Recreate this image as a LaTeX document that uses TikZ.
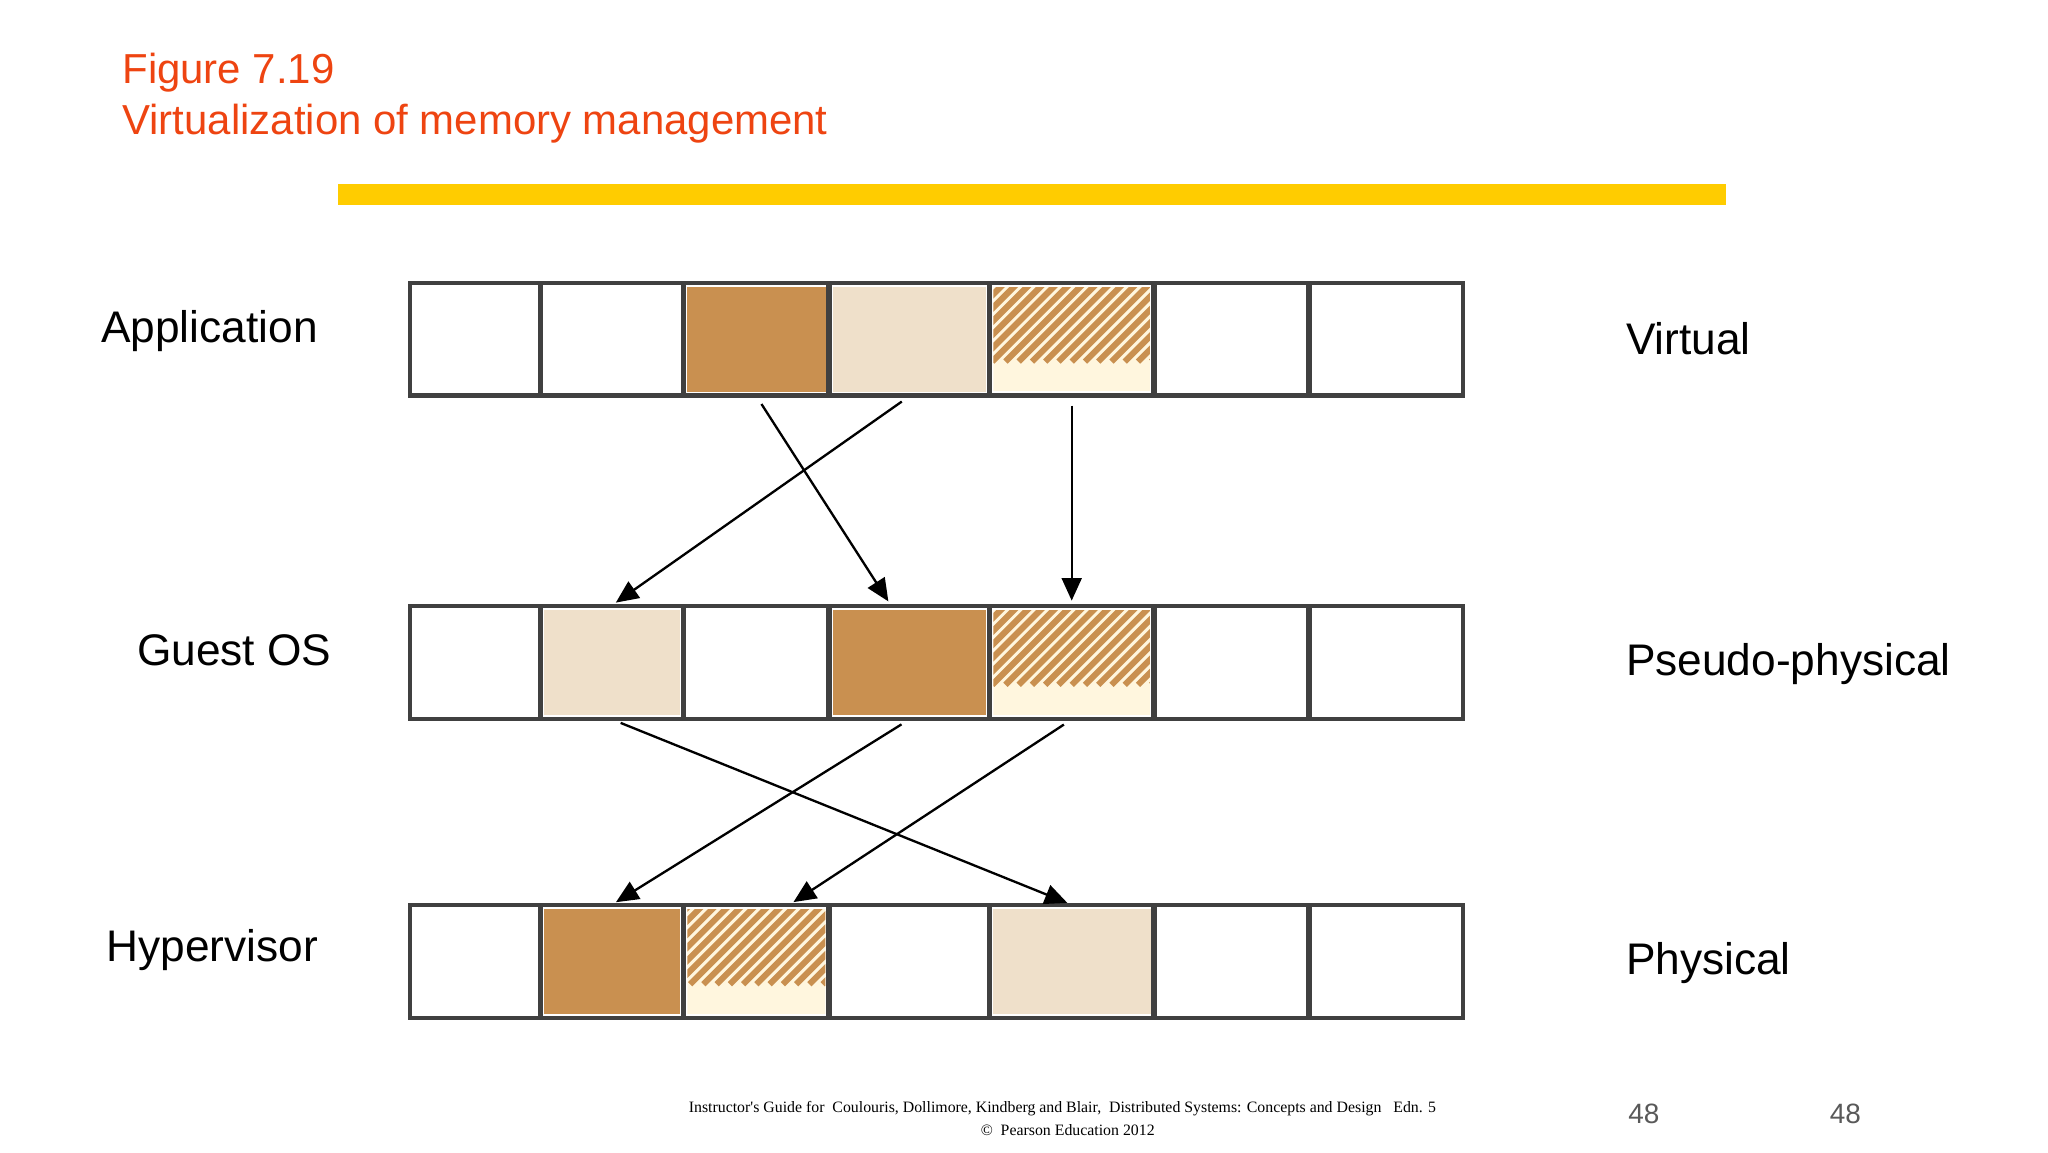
\documentclass[tikz,border=0pt]{standalone}
\usepackage{fontspec}
\setmainfont{Liberation Sans}
\newfontfamily\serifft{Liberation Serif}
\usetikzlibrary{arrows.meta}
\definecolor{dark}{HTML}{C99050}
\definecolor{lite}{HTML}{EFE0CA}
\definecolor{ttl}{HTML}{EE4411}
\definecolor{bar}{HTML}{FFCC00}
\definecolor{cream}{HTML}{FFF6DE}
\tikzset{
 cellbox/.style={draw=black!75, line width=0.6pt, inner sep=0pt, minimum height=0.84cm},
 lbl/.style={anchor=west, font=\fontsize{9.5}{11}\selectfont},
 conn/.style={-{Triangle[length=0.17cm,width=0.15cm]}, line width=0.5pt, shorten <=2pt, shorten >=1pt},
}
\begin{document}
\begin{tikzpicture}[x=0.01cm,y=-0.01cm]
\useasboundingbox (0,0) rectangle (1546,870);
\node[anchor=west, text=ttl, font=\fontsize{9}{11}\selectfont] at (80,55) {Figure 7.19};
\node[anchor=west, text=ttl, font=\fontsize{9}{11}\selectfont] at (80,93) {Virtualization of memory management};
\fill[bar] (255,139) rectangle (1303,155);
% rows
\foreach \r/\yy in {t/256, m/500, b/726}{
  \foreach \i/\xa/\xb in {0/310/408,1/408/516,2/516/626,3/626/747,4/747/871,5/871/988,6/988/1104}{
    \node[cellbox, minimum width={(\xb-\xa)*0.01cm}] (\r\i) at ({(\xa+\xb)/2},\yy) {};
  }
}
% fills
\newcommand\solidcell[2]{\fill[#2] ([shift={(0.035cm,-0.035cm)}]#1.north west) rectangle ([shift={(-0.035cm,0.035cm)}]#1.south east);}
\newcommand\hatchcell[1]{%
 \begin{scope}
 \clip ([shift={(0.04cm,-0.04cm)}]#1.north west) rectangle ([shift={(-0.04cm,0.04cm)}]#1.south east);
 \fill[cream] (#1.north west) rectangle (#1.south east);
 \foreach \k in {-12,...,12}{\draw[dark, line width=1.3pt] ([xshift=\k*0.1cm]#1.north) ++(-0.6cm,-0.6cm) -- ++(1.2cm,1.2cm);}
 \end{scope}}
\solidcell{t2}{dark}\solidcell{t3}{lite}\hatchcell{t4}
\solidcell{m1}{lite}\solidcell{m3}{dark}\hatchcell{m4}
\solidcell{b1}{dark}\hatchcell{b2}\solidcell{b4}{lite}
% redraw borders
\foreach \r in {t,m,b}{\foreach \i in {0,...,6}{\draw[black!75, line width=0.6pt] (\r\i.north west) rectangle (\r\i.south east);}}
% arrows
\draw[conn] (t2.south) -- ([xshift=-0.14cm]m3.north);
\draw[conn] (t3.south) -- (m1.north);
\draw[conn] (t4.south) -- (m4.north);
\draw[conn] (m1.south) -- (b4.north);
\draw[conn] (m3.south) -- (b1.north);
\draw[conn] (m4.south) -- ([xshift=0.25cm]b2.north);
% labels
\node[lbl] at (64,250) {Application};
\node[lbl] at (91,491) {Guest OS};
\node[lbl] at (68,717) {Hypervisor};
\node[lbl] at (1215,256) {Virtual};
\node[lbl] at (1215,501) {Pseudo-physical};
\node[lbl] at (1215,727) {Physical};
% footer
\node[font=\serifft\fontsize{3.4}{4}\selectfont] (f1) at (802,837) {Instructor's Guide for\ \ Coulouris, Dollimore, Kindberg and Blair,\ \ Distributed Systems: Concepts and Design\ \ \ Edn. 5};
\node[font=\serifft\fontsize{3.4}{4}\selectfont] (f2) at (806,853) {\copyright\ \ Pearson Education 2012};
\node[text=black!65, font=\fontsize{6}{7}\selectfont] (p1) at (1241,841) {48};
\node[text=black!65, font=\fontsize{6}{7}\selectfont] (p2) at (1393,841) {48};
\end{tikzpicture}
\end{document}
